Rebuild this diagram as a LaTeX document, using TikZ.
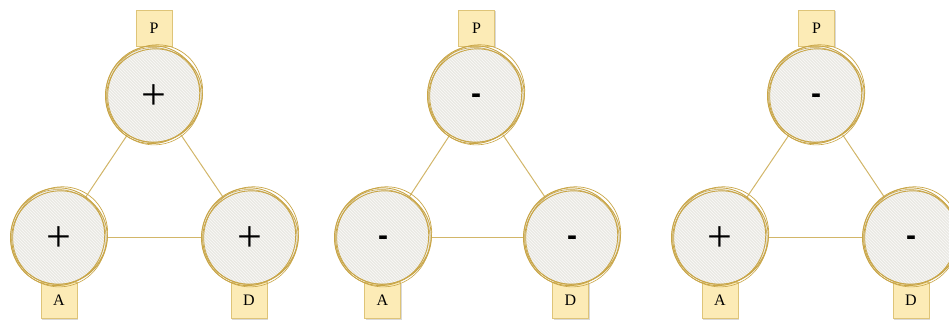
\documentclass[tikz,border=0pt]{standalone}
\usepackage{fontspec}
\setmainfont{Liberation Serif}
\newfontfamily\dashfont{Liberation Sans}
\usetikzlibrary{patterns,shadows}
\definecolor{ringcol}{RGB}{201,166,72}
\definecolor{linkcol}{RGB}{210,182,105}
\definecolor{ballfill}{RGB}{234,233,228}
\definecolor{hatchcol}{RGB}{250,250,248}
\definecolor{boxfill}{RGB}{252,235,182}
\definecolor{boxdraw}{RGB}{222,196,120}
\tikzset{
  ball/.style={circle, minimum size=96pt, inner sep=0pt, fill=ballfill,
    postaction={pattern=north west lines, pattern color=hatchcol}},
  sketch/.style={draw=ringcol, line width=0.9pt},
  tag/.style={rectangle, minimum size=36pt, inner sep=0pt, fill=boxfill, draw=boxdraw, line width=0.6pt,
    drop shadow={shadow xshift=1pt, shadow yshift=-1pt, opacity=0.25, fill=black!60},
    font=\fontsize{16}{16}\selectfont},
  link/.style={draw=linkcol, line width=1pt},
  plus/.style={font=\fontsize{44}{44}\selectfont, yshift=-2.5pt},
  minus/.style={font=\dashfont\bfseries\fontsize{30}{30}\selectfont, yshift=-4pt},
}
\newcommand\sketchring[1]{%
  \draw[sketch] ([shift={(0.5pt,-0.5pt)}]#1.center) ellipse [x radius=48pt, y radius=46.5pt, rotate=20];
  \draw[sketch] ([shift={(-1.4pt,0.3pt)}]#1.center) ellipse [x radius=47pt, y radius=49pt, rotate=-15];
  \draw[sketch, line width=0.7pt] ([shift={(1.2pt,1.4pt)}]#1.center) ellipse [x radius=49.5pt, y radius=46.8pt, rotate=60];
  \draw[sketch, line width=0.6pt] ([shift={(-0.6pt,-1.2pt)}]#1.center) ellipse [x radius=48.8pt, y radius=47.6pt, rotate=110];
}
\begin{document}
\begin{tikzpicture}[x=1pt,y=-1pt]
\useasboundingbox (0,0) rectangle (949,322);
% ---------- diagram 1
\coordinate (p1) at (154,95);
\coordinate (a1) at (59,237);
\coordinate (d1) at (250,237);
\draw[link] (p1) -- (a1);
\draw[link] (p1) -- (d1);
\draw[link] (a1) -- (d1);
\node[tag] (tp1) at (154,28) {P};
\node[tag] (ta1) at (59,300.5) {A};
\node[tag] (td1) at (249,300.5) {D};
\node[ball] (P1) at (p1) {};
\node[ball] (A1) at (a1) {};
\node[ball] (D1) at (d1) {};
\sketchring{P1}\sketchring{A1}\sketchring{D1}
\node[plus] at (P1) {+};
\node[plus] at (A1) {+};
\node[plus] at (D1) {+};
% ---------- diagram 2
\coordinate (p2) at (476,95);
\coordinate (a2) at (383,237);
\coordinate (d2) at (572,237);
\draw[link] (p2) -- (a2);
\draw[link] (p2) -- (d2);
\draw[link] (a2) -- (d2);
\node[tag] (tp2) at (476.5,28) {P};
\node[tag] (ta2) at (382.5,300.5) {A};
\node[tag] (td2) at (570.5,300.5) {D};
\node[ball] (P2) at (p2) {};
\node[ball] (A2) at (a2) {};
\node[ball] (D2) at (d2) {};
\sketchring{P2}\sketchring{A2}\sketchring{D2}
\node[minus] at (P2) {-};
\node[minus] at (A2) {-};
\node[minus] at (D2) {-};
% ---------- diagram 3
\coordinate (p3) at (816,95);
\coordinate (a3) at (720,237);
\coordinate (d3) at (911,237);
\draw[link] (p3) -- (a3);
\draw[link] (p3) -- (d3);
\draw[link] (a3) -- (d3);
\node[tag] (tp3) at (816.5,28) {P};
\node[tag] (ta3) at (720,300.5) {A};
\node[tag] (td3) at (911,300.5) {D};
\node[ball] (P3) at (p3) {};
\node[ball] (A3) at (a3) {};
\node[ball] (D3) at (d3) {};
\sketchring{P3}\sketchring{A3}\sketchring{D3}
\node[minus] at (P3) {-};
\node[plus] at (A3) {+};
\node[minus] at (D3) {-};
\end{tikzpicture}
\end{document}
